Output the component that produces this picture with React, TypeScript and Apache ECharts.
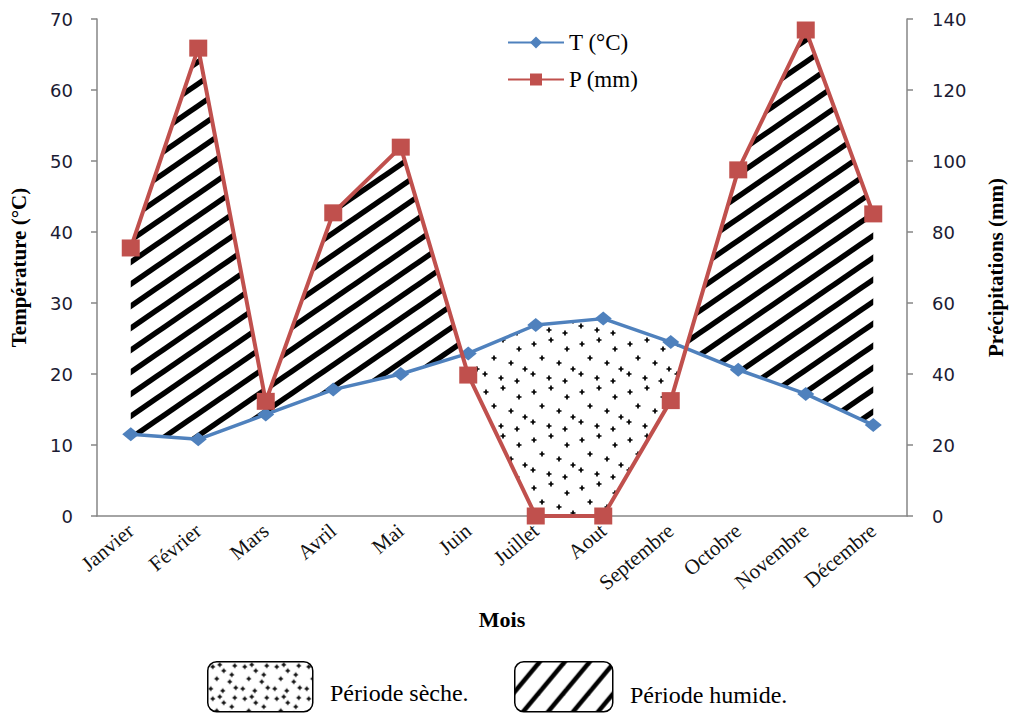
import React, { useEffect, useRef } from 'react';
import * as echarts from 'echarts';

// ---------- data ----------
const months = ['Janvier', 'Février', 'Mars', 'Avril', 'Mai', 'Juin', 'Juillet', 'Aout', 'Septembre', 'Octobre', 'Novembre', 'Décembre'];
const temperature = [11.5, 10.8, 14.3, 17.8, 20.0, 22.9, 26.9, 27.8, 24.5, 20.6, 17.2, 12.8];
const precipitation = [75.5, 131.8, 32.3, 85.4, 103.9, 39.7, 0, 0, 32.5, 97.5, 136.9, 85.1];
const tempTicks = { min: 0, max: 70, interval: 10 };
const precTicks = { min: 0, max: 140, interval: 20 };
const seriesNames = ['T (°C)', 'P (mm)'];
const periodLabels = ['Période sèche.', 'Période humide.'];
const axisTitles = { x: 'Mois', left: 'Température (°C)', right: 'Précipitations (mm)' };

// ---------- patterns ----------
function hatchPattern(W: number, H: number, lw: number) {
  const c = document.createElement('canvas');
  c.width = W;
  c.height = H;
  const ctx = c.getContext('2d')!;
  ctx.strokeStyle = '#000';
  ctx.lineWidth = lw;
  ctx.lineCap = 'butt';
  for (let k = 0; k <= 2; k++) {
    ctx.beginPath();
    ctx.moveTo(-W, k * H + H);
    ctx.lineTo(2 * W, k * H - 2 * H);
    ctx.stroke();
  }
  return { image: c, repeat: 'repeat', imageWidth: W, imageHeight: H };
}

function plusPattern(size: number, pts: number[][], arm: number, lw: number) {
  const c = document.createElement('canvas');
  c.width = size;
  c.height = size;
  const ctx = c.getContext('2d')!;
  ctx.strokeStyle = '#000';
  ctx.lineWidth = lw;
  for (const [x, y] of pts) {
    ctx.beginPath();
    ctx.moveTo(x - arm, y);
    ctx.lineTo(x + arm, y);
    ctx.moveTo(x, y - arm);
    ctx.lineTo(x, y + arm);
    ctx.stroke();
  }
  return { image: c, repeat: 'repeat', imageWidth: size, imageHeight: size };
}

const DOT_POS = [
  [6, 8], [23, 4], [39, 13], [14, 22], [31, 27], [45, 33], [5, 38], [21, 42], [37, 45],
];
const DOT_POS_SMALL = [
  [5, 5], [16, 9], [27, 4], [9, 17], [22, 20], [3, 27], [15, 29], [28, 26], [12, 3], [24, 13],
];

export default function App() {
  const ref = useRef<HTMLDivElement>(null);

  useEffect(() => {
    document.body.style.margin = '0';
    if (!ref.current) return;
    const chart = echarts.init(ref.current, null, { renderer: 'svg' });

    const humid = hatchPattern(32, 22, 5.5);
    const dry = plusPattern(48, DOT_POS, 2.5, 1.7);
    const humidLegend = hatchPattern(25, 30, 4.5);
    const dryLegend = plusPattern(32, DOT_POS_SMALL, 2.2, 1.4);
    const ratio = precTicks.max / tempTicks.max;

    const renderItem = (params: any, api: any) => {
      const n = temperature.length;
      const tp = temperature.map((t, i) => api.coord([i, t]));
      const pp = precipitation.map((p, i) => api.coord([i, p / ratio]));
      const pv = precipitation.map((p) => p / ratio);
      const build = (sign: number) => {
        const polys: number[][][] = [];
        let upper: number[][] = [];
        let lower: number[][] = [];
        for (let i = 0; i < n; i++) {
          const di = sign * (pv[i] - temperature[i]);
          if (di >= 0) {
            upper.push(sign > 0 ? pp[i] : tp[i]);
            lower.push(sign > 0 ? tp[i] : pp[i]);
          }
          if (i < n - 1) {
            const dn = sign * (pv[i + 1] - temperature[i + 1]);
            if ((di >= 0) !== (dn >= 0)) {
              const f = di / (di - dn);
              const cx = tp[i][0] + f * (tp[i + 1][0] - tp[i][0]);
              const cy = tp[i][1] + f * (tp[i + 1][1] - tp[i][1]);
              const c = [cx, cy];
              if (di >= 0) {
                upper.push(c);
                polys.push([...upper, ...lower.reverse()]);
                upper = [];
                lower = [];
              } else {
                upper.push(c);
                lower.push(c);
              }
            }
          }
        }
        if (upper.length > 1) polys.push([...upper, ...lower.reverse()]);
        return polys;
      };
      const children: any[] = [];
      build(1).forEach((pts) =>
        children.push({ type: 'polygon', shape: { points: pts }, style: { fill: humid, stroke: 'none' } })
      );
      build(-1).forEach((pts) =>
        children.push({ type: 'polygon', shape: { points: pts }, style: { fill: dry, stroke: 'none' } })
      );
      return { type: 'group', children };
    };

    const axisGray = '#868686';
    const serif = '"Liberation Serif", "Times New Roman", serif';
    const tickFont = { fontFamily: '"DejaVu Sans", Verdana, sans-serif', fontSize: 18, color: '#1b1b33' };

    const option: any = {
      animation: false,
      backgroundColor: '#ffffff',
      grid: { left: 97, right: 108, top: 19, bottom: 197 },
      legend: {
        data: seriesNames,
        orient: 'vertical',
        left: 502,
        top: 26,
        itemWidth: 56,
        itemHeight: 15,
        itemGap: 14,
        textStyle: { fontFamily: serif, fontSize: 23, color: '#000' },
      },
      xAxis: {
        type: 'category',
        data: months,
        boundaryGap: true,
        axisLine: { lineStyle: { color: axisGray, width: 1.5 } },
        axisTick: { length: 6, lineStyle: { color: axisGray, width: 1.5 } },
        axisLabel: { rotate: 40, margin: 12, interval: 0, fontFamily: serif, fontSize: 21, color: '#111' },
        name: axisTitles.x,
        nameLocation: 'middle',
        nameGap: 92,
        nameTextStyle: { fontFamily: serif, fontWeight: 'bold', fontSize: 22, color: '#000' },
      },
      yAxis: [
        {
          type: 'value',
          position: 'left',
          min: tempTicks.min,
          max: tempTicks.max,
          interval: tempTicks.interval,
          axisLine: { show: true, lineStyle: { color: axisGray, width: 1.5 } },
          axisTick: { show: true, length: 6, lineStyle: { color: axisGray, width: 1.5 } },
          splitLine: { show: false },
          axisLabel: { margin: 24, ...tickFont },
          name: axisTitles.left,
          nameLocation: 'middle',
          nameGap: 68,
          nameRotate: 90,
          nameTextStyle: { fontFamily: serif, fontWeight: 'bold', fontSize: 21, color: '#000' },
        },
        {
          type: 'value',
          position: 'right',
          min: precTicks.min,
          max: precTicks.max,
          interval: precTicks.interval,
          axisLine: { show: true, lineStyle: { color: axisGray, width: 1.5 } },
          axisTick: { show: true, length: 6, lineStyle: { color: axisGray, width: 1.5 } },
          splitLine: { show: false },
          axisLabel: { margin: 25, ...tickFont },
          name: axisTitles.right,
          nameLocation: 'middle',
          nameGap: 78,
          nameRotate: 90,
          nameTextStyle: { fontFamily: serif, fontWeight: 'bold', fontSize: 21, color: '#000' },
        },
      ],
      series: [
        {
          type: 'custom',
          name: 'périodes',
          renderItem,
          data: [0],
          xAxisIndex: 0,
          yAxisIndex: 0,
          z: 1,
          silent: true,
        },
        {
          type: 'line',
          name: seriesNames[0],
          data: temperature,
          yAxisIndex: 0,
          symbol: 'diamond',
          symbolSize: [17, 14],
          lineStyle: { color: '#4F81BD', width: 3.5 },
          itemStyle: { color: '#4F81BD' },
          z: 3,
        },
        {
          type: 'line',
          name: seriesNames[1],
          data: precipitation,
          yAxisIndex: 1,
          symbol: 'rect',
          symbolSize: [18, 17],
          lineStyle: { color: '#C0504D', width: 4 },
          itemStyle: { color: '#C0504D' },
          z: 4,
        },
      ],
      graphic: [
        {
          type: 'rect',
          left: 207,
          top: 661,
          shape: { width: 105, height: 50, r: 9 },
          style: { fill: dryLegend, stroke: '#000', lineWidth: 1.5 },
        },
        {
          type: 'text',
          left: 330,
          top: 681,
          style: { text: periodLabels[0], font: `24px ${serif}`, fill: '#000' },
        },
        {
          type: 'rect',
          left: 514,
          top: 661,
          shape: { width: 98, height: 50, r: 9 },
          style: { fill: humidLegend, stroke: '#000', lineWidth: 1.5 },
        },
        {
          type: 'text',
          left: 630,
          top: 683,
          style: { text: periodLabels[1], font: `24px ${serif}`, fill: '#000' },
        },
      ],
    };

    chart.setOption(option);
    return () => chart.dispose();
  }, []);

  return <div ref={ref} style={{ width: 1015, height: 713 }} />;
}
